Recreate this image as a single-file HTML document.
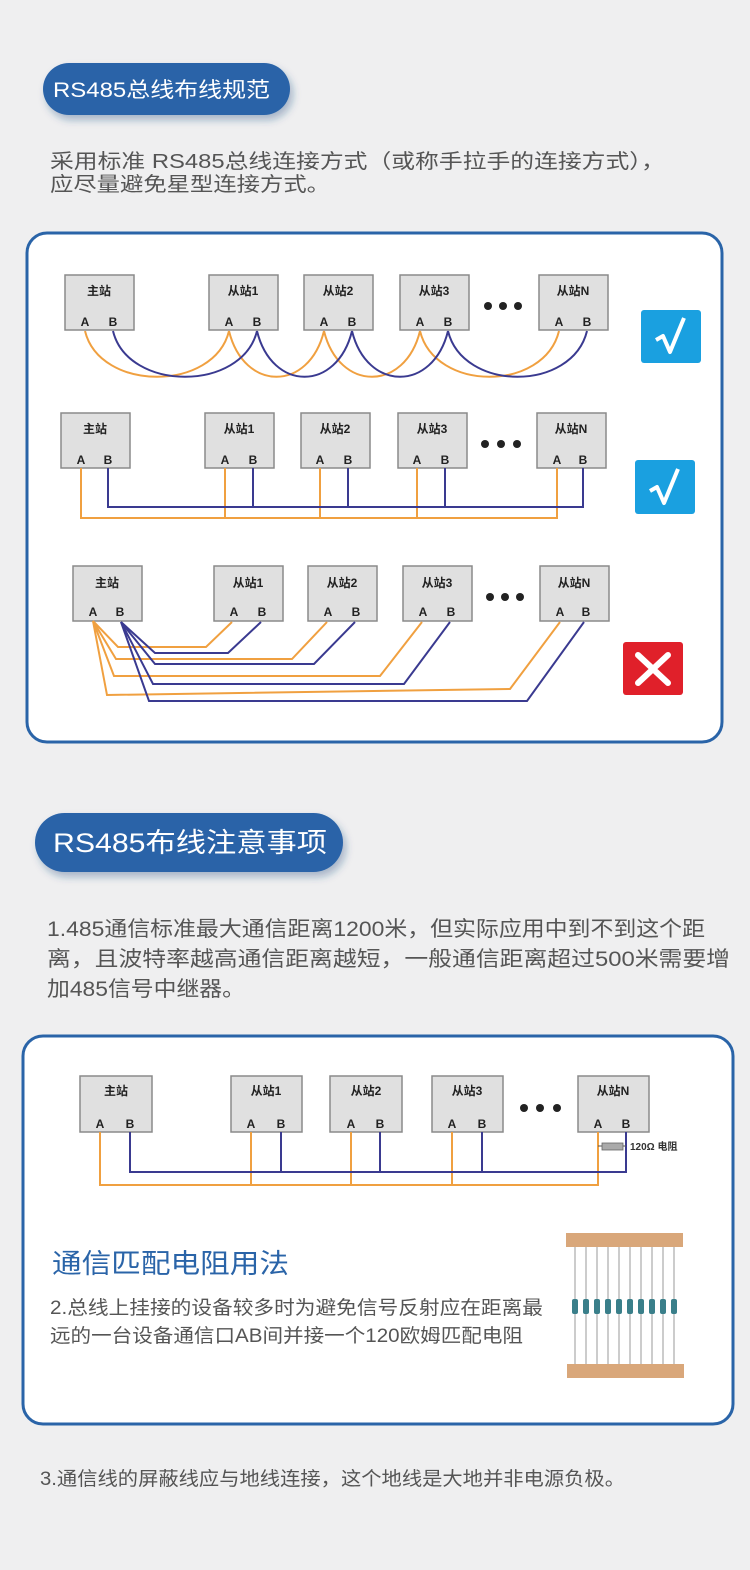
<!DOCTYPE html>
<html><head><meta charset="utf-8"><style>
html,body{margin:0;padding:0;background:#efeff0;}
svg{display:block;font-family:"Liberation Sans","Noto Sans CJK SC",sans-serif;}
</style></head><body>
<svg width="750" height="1570" viewBox="0 0 750 1570" xmlns="http://www.w3.org/2000/svg">
<defs>
<filter id="sh" x="-20%" y="-30%" width="140%" height="180%"><feDropShadow dx="3" dy="5" stdDeviation="4" flood-color="#1d4a80" flood-opacity="0.35"/></filter>
<g id="bx"><rect width="69" height="55" fill="#e0e0e0" stroke="#8a8a8a" stroke-width="1.5"/></g>
</defs>
<rect width="750" height="1570" fill="#efeff0"/>

<!-- Header 1 -->
<rect x="43" y="63" width="247" height="52" rx="26" fill="#2a64a8" filter="url(#sh)"/>
<text x="53" y="97" font-size="21" fill="#fff" textLength="217" lengthAdjust="spacingAndGlyphs">RS485总线布线规范</text>
<g fill="#555" font-size="20">
<text x="50" y="168" textLength="615" lengthAdjust="spacingAndGlyphs">采用标准 RS485总线连接方式（或称手拉手的连接方式），</text>
<text x="50" y="191" textLength="280" lengthAdjust="spacingAndGlyphs">应尽量避免星型连接方式。</text>
</g>

<!-- Panel 1 -->
<rect x="27" y="233" width="695" height="509" rx="20" fill="#fff" stroke="#2a64a8" stroke-width="3"/>

<g font-weight="bold" font-size="12" fill="#222" text-anchor="middle">
<use href="#bx" x="65" y="275"/><use href="#bx" x="209" y="275"/><use href="#bx" x="304" y="275"/><use href="#bx" x="400" y="275"/><use href="#bx" x="539" y="275"/>
<text x="99" y="295">主站</text><text x="243" y="295">从站1</text><text x="338" y="295">从站2</text><text x="434" y="295">从站3</text><text x="573" y="295">从站N</text>
<text x="85" y="326">A</text><text x="113" y="326">B</text>
<text x="229" y="326">A</text><text x="257" y="326">B</text>
<text x="324" y="326">A</text><text x="352" y="326">B</text>
<text x="420" y="326">A</text><text x="448" y="326">B</text>
<text x="559" y="326">A</text><text x="587" y="326">B</text>
<use href="#bx" x="61" y="413"/><use href="#bx" x="205" y="413"/><use href="#bx" x="301" y="413"/><use href="#bx" x="398" y="413"/><use href="#bx" x="537" y="413"/>
<text x="95" y="433">主站</text><text x="239" y="433">从站1</text><text x="335" y="433">从站2</text><text x="432" y="433">从站3</text><text x="571" y="433">从站N</text>
<text x="81" y="464">A</text><text x="108" y="464">B</text>
<text x="225" y="464">A</text><text x="253" y="464">B</text>
<text x="320" y="464">A</text><text x="348" y="464">B</text>
<text x="417" y="464">A</text><text x="445" y="464">B</text>
<text x="557" y="464">A</text><text x="583" y="464">B</text>
<use href="#bx" x="73" y="566"/><use href="#bx" x="214" y="566"/><use href="#bx" x="308" y="566"/><use href="#bx" x="403" y="566"/><use href="#bx" x="540" y="566"/>
<text x="107" y="587">主站</text><text x="248" y="587">从站1</text><text x="342" y="587">从站2</text><text x="437" y="587">从站3</text><text x="574" y="587">从站N</text>
<text x="93" y="616">A</text><text x="120" y="616">B</text>
<text x="234" y="616">A</text><text x="262" y="616">B</text>
<text x="328" y="616">A</text><text x="356" y="616">B</text>
<text x="423" y="616">A</text><text x="451" y="616">B</text>
<text x="560" y="616">A</text><text x="586" y="616">B</text>
</g>
<g fill="#222">
<circle cx="488" cy="306" r="4"/><circle cx="503" cy="306" r="4"/><circle cx="518" cy="306" r="4"/>
<circle cx="485" cy="444" r="4"/><circle cx="501" cy="444" r="4"/><circle cx="517" cy="444" r="4"/>
<circle cx="490" cy="597" r="4"/><circle cx="505" cy="597" r="4"/><circle cx="520" cy="597" r="4"/>
</g>

<g fill="none" stroke-width="2">
<g stroke="#f0a040">
<path d="M85 331 C100 392,214 392,229 331"/><path d="M229 331 C244 392,309 392,324 331"/><path d="M324 331 C339 392,405 392,420 331"/><path d="M420 331 C435 392,544 392,559 331"/>
</g>
<g stroke="#3a3a90">
<path d="M113 331 C128 392,242 392,257 331"/><path d="M257 331 C272 392,337 392,352 331"/><path d="M352 331 C367 392,433 392,448 331"/><path d="M448 331 C463 392,572 392,587 331"/>
</g>
<path stroke="#f0a040" d="M81 468 V518 H557 V468 M225 468 V518 M320 468 V518 M417 468 V518"/>
<path stroke="#3a3a90" d="M108 468 V507 H583 V468 M253 468 V507 M348 468 V507 M445 468 V507"/>
<g stroke="#f0a040">
<path d="M93 621 L118 647 H206 L232 622"/>
<path d="M93 621 L116 659 H292 L327 622"/>
<path d="M93 621 L114 676 H380 L422 622"/>
<path d="M93 621 L107 695 L510 689 L560 622"/>
</g>
<g stroke="#3a3a90">
<path d="M121 622 L155 653 H228 L261 622"/>
<path d="M121 622 L155 664 H314 L355 622"/>
<path d="M121 622 L153 684 H404 L450 622"/>
<path d="M121 622 L149 701 H527 L584 622"/>
</g>
</g>

<rect x="641" y="310" width="60" height="53" rx="3" fill="#1aa0e0"/>
<path d="M656 340 L663 336 L670 352 L684 318" fill="none" stroke="#fff" stroke-width="4" stroke-linejoin="round"/>
<rect x="635" y="460" width="60" height="54" rx="3" fill="#1aa0e0"/>
<path d="M650 491 L657 487 L664 503 L678 469" fill="none" stroke="#fff" stroke-width="4" stroke-linejoin="round"/>
<rect x="623" y="642" width="60" height="53" rx="3" fill="#e0202a"/>
<path d="M638 655 L668 683 M668 655 L638 683" stroke="#fff" stroke-width="6" stroke-linecap="round"/>

<rect x="35" y="813" width="308" height="59" rx="29.5" fill="#2a64a8" filter="url(#sh)"/>
<text x="53" y="852" font-size="27" fill="#fff" textLength="274" lengthAdjust="spacingAndGlyphs">RS485布线注意事项</text>

<g fill="#555" font-size="21">
<text x="47" y="936" textLength="658" lengthAdjust="spacingAndGlyphs">1.485通信标准最大通信距离1200米，但实际应用中到不到这个距</text>
<text x="47" y="966" textLength="683" lengthAdjust="spacingAndGlyphs">离，且波特率越高通信距离越短，一般通信距离超过500米需要增</text>
<text x="47" y="996" textLength="198" lengthAdjust="spacingAndGlyphs">加485信号中继器。</text>
</g>

<rect x="23" y="1036" width="710" height="388" rx="20" fill="#fff" stroke="#2a64a8" stroke-width="3"/>
<g font-weight="bold" font-size="12" fill="#222" text-anchor="middle">
<rect x="80" y="1076" width="72" height="56" fill="#e0e0e0" stroke="#8a8a8a" stroke-width="1.5"/>
<rect x="231" y="1076" width="71" height="56" fill="#e0e0e0" stroke="#8a8a8a" stroke-width="1.5"/>
<rect x="330" y="1076" width="72" height="56" fill="#e0e0e0" stroke="#8a8a8a" stroke-width="1.5"/>
<rect x="432" y="1076" width="71" height="56" fill="#e0e0e0" stroke="#8a8a8a" stroke-width="1.5"/>
<rect x="578" y="1076" width="71" height="56" fill="#e0e0e0" stroke="#8a8a8a" stroke-width="1.5"/>
<text x="116" y="1095">主站</text><text x="266" y="1095">从站1</text><text x="366" y="1095">从站2</text><text x="467" y="1095">从站3</text><text x="613" y="1095">从站N</text>
<text x="100" y="1128">A</text><text x="130" y="1128">B</text>
<text x="251" y="1128">A</text><text x="281" y="1128">B</text>
<text x="351" y="1128">A</text><text x="380" y="1128">B</text>
<text x="452" y="1128">A</text><text x="482" y="1128">B</text>
<text x="598" y="1128">A</text><text x="626" y="1128">B</text>
</g>
<g fill="#222"><circle cx="524" cy="1108" r="4"/><circle cx="540" cy="1108" r="4"/><circle cx="557" cy="1108" r="4"/></g>
<g fill="none" stroke-width="2">
<path stroke="#f0a040" d="M100 1132 V1185 H598 V1132 M251 1132 V1185 M351 1132 V1185 M452 1132 V1185"/>
<path stroke="#3a3a90" d="M130 1132 V1172 H626 V1132 M281 1132 V1172 M380 1132 V1172 M482 1132 V1172"/>
<path stroke="#555" stroke-width="1" d="M598 1146 H602 M623 1146 H626"/>
</g>
<rect x="602" y="1143" width="21" height="7" fill="#aaa" stroke="#666" stroke-width="0.8"/>
<text x="630" y="1150" font-size="10" font-weight="bold" fill="#333">120Ω 电阻</text>

<text x="52" y="1273" font-size="27" fill="#2a64a8" textLength="237" lengthAdjust="spacingAndGlyphs">通信匹配电阻用法</text>
<g fill="#555" font-size="19">
<text x="50" y="1314" textLength="493" lengthAdjust="spacingAndGlyphs">2.总线上挂接的设备较多时为避免信号反射应在距离最</text>
<text x="50" y="1342" textLength="473" lengthAdjust="spacingAndGlyphs">远的一台设备通信口AB间并接一个120欧姆匹配电阻</text>
</g>

<rect x="566" y="1233" width="117" height="14" fill="#d9a77a"/>
<rect x="567" y="1364" width="117" height="14" fill="#d9a77a"/>
<g stroke="#999" stroke-width="1">
<path d="M575 1247 V1364 M586 1247 V1364 M597 1247 V1364 M608 1247 V1364 M619 1247 V1364 M630 1247 V1364 M641 1247 V1364 M652 1247 V1364 M663 1247 V1364 M674 1247 V1364"/>
</g>
<g fill="#3a7f8a">
<rect x="572" y="1299" width="6" height="15" rx="2"/><rect x="583" y="1299" width="6" height="15" rx="2"/><rect x="594" y="1299" width="6" height="15" rx="2"/><rect x="605" y="1299" width="6" height="15" rx="2"/><rect x="616" y="1299" width="6" height="15" rx="2"/><rect x="627" y="1299" width="6" height="15" rx="2"/><rect x="638" y="1299" width="6" height="15" rx="2"/><rect x="649" y="1299" width="6" height="15" rx="2"/><rect x="660" y="1299" width="6" height="15" rx="2"/><rect x="671" y="1299" width="6" height="15" rx="2"/>
</g>

<text x="40" y="1485" font-size="19" fill="#555" textLength="585" lengthAdjust="spacingAndGlyphs">3.通信线的屏蔽线应与地线连接，这个地线是大地并非电源负极。</text>
</svg>
</body></html>
